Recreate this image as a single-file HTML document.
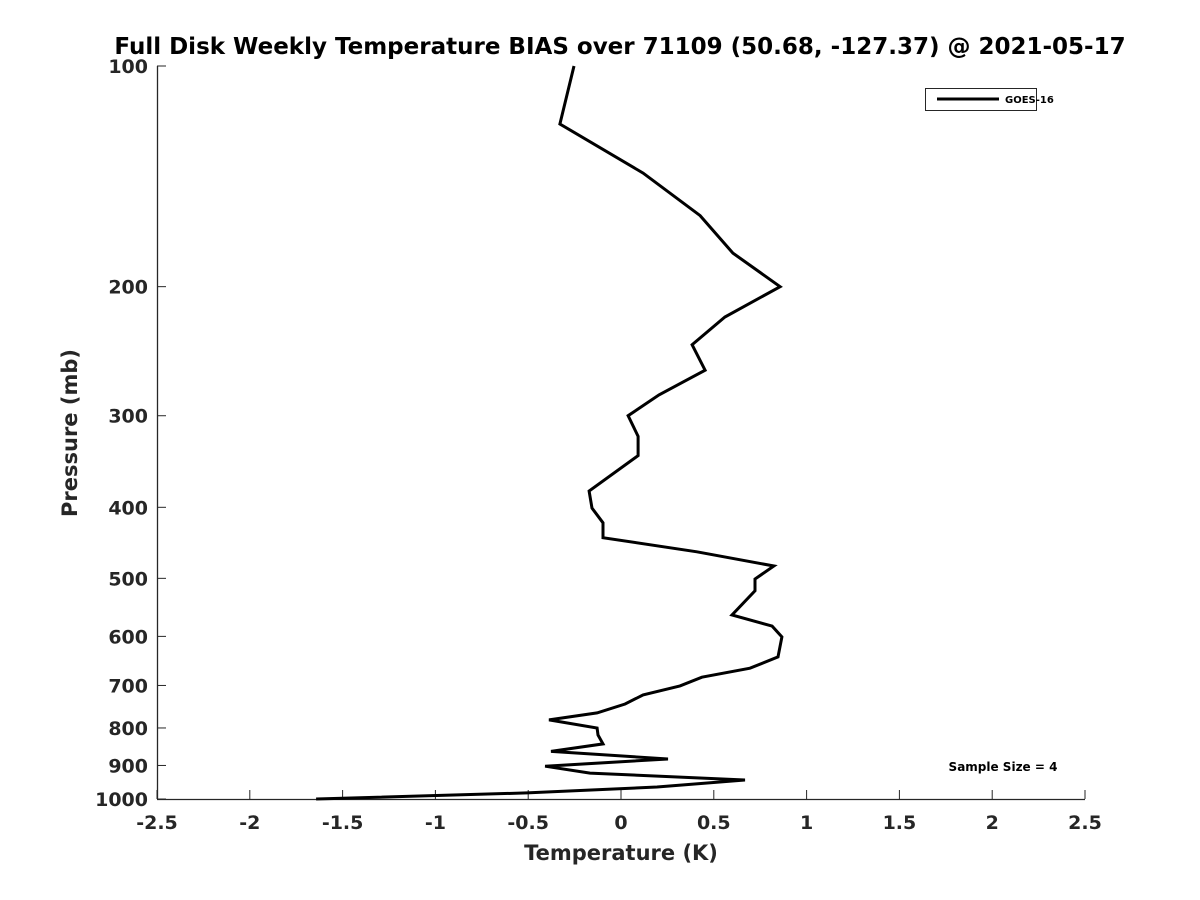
<!DOCTYPE html>
<html><head><meta charset="utf-8"><style>
html,body{margin:0;padding:0;background:#fff;}
svg{display:block;font-family:"DejaVu Sans","Liberation Sans",sans-serif;font-weight:bold;}
</style></head><body>
<svg id="chart" width="1200" height="900" viewBox="0 0 1200 900" xmlns="http://www.w3.org/2000/svg">
<rect width="1200" height="900" fill="#fff"/>
<text x="620" y="54" text-anchor="middle" font-size="23" fill="#000">Full Disk Weekly Temperature BIAS over 71109 (50.68, -127.37) @ 2021-05-17</text>
<g id="axes"></g>
<g id="series"></g>
<text x="621" y="860" text-anchor="middle" font-size="21" fill="#262626">Temperature (K)</text>
<text transform="translate(77,433) rotate(-90)" text-anchor="middle" font-size="21" fill="#262626">Pressure (mb)</text>
<g>
<rect x="925.5" y="88.5" width="111" height="22" fill="#fff" stroke="#262626" stroke-width="1"/>
<line x1="937" y1="99" x2="999" y2="99" stroke="#000" stroke-width="3"/>
<text x="1005" y="103" font-size="10" fill="#000">GOES-16</text>
</g>
<text x="1003" y="771" text-anchor="middle" font-size="12" fill="#000">Sample Size = 4</text>
</svg>
<script>
const xTicks = [-2.5,-2,-1.5,-1,-0.5,0,0.5,1,1.5,2,2.5];
const xTickLabels = ["-2.5","-2","-1.5","-1","-0.5","0","0.5","1","1.5","2","2.5"];
const yTicks = [100,200,300,400,500,600,700,800,900,1000];
const yTickLabels = ["100","200","300","400","500","600","700","800","900","1000"];
const pressure = [100,120,140,160,180,200,220,240,260,281,300,320,340,380,401,420,440,460,481,501,520,561,581,601,640,663,682,701,721,742,763,780,800,818,841,861,882,902,922,942,963,981,1000];
const biasGoes16 = [-0.253,-0.329,0.119,0.426,0.603,0.857,0.560,0.383,0.453,0.205,0.038,0.092,0.092,-0.172,-0.156,-0.097,-0.097,0.409,0.824,0.722,0.722,0.598,0.814,0.867,0.846,0.695,0.436,0.318,0.119,0.022,-0.129,-0.388,-0.129,-0.124,-0.097,-0.377,0.253,-0.409,-0.167,0.668,0.194,-0.506,-1.643];

const X0=157,X1=1085,Y0=66,Y1=799;
function xs(v){return X0+(v-(-2.5))/5*(X1-X0);}
function ys(p){return Y0+Math.log10(p/100)*(Y1-Y0);}
const NS="http://www.w3.org/2000/svg";
const axes=document.getElementById('axes');
function mk(tag,attrs,parent){const e=document.createElementNS(NS,tag);for(const k in attrs)e.setAttribute(k,attrs[k]);parent.appendChild(e);return e;}
let l=mk('line',{x1:X0,y1:Y1+0.5,x2:X1,y2:Y1+0.5,stroke:'#262626','stroke-width':1.3},axes);


l=mk('line',{x1:X0+0.5,y1:Y0,x2:X0+0.5,y2:Y1,stroke:'#262626','stroke-width':1.3},axes);


xTicks.forEach((v,i)=>{
  const x=xs(v);
  const t=mk('line',{x1:x,y1:Y1,x2:x,y2:Y1-9,stroke:'#262626','stroke-width':1},axes);
  
  
  const tx=mk('text',{x:x,y:Y1+30,'text-anchor':'middle','font-size':19,fill:'#262626'},axes);
  tx.textContent=xTickLabels[i];
  
  
});
yTicks.forEach((p,i)=>{
  const y=ys(p);
  const t=mk('line',{x1:X0,y1:y,x2:X0+9,y2:y,stroke:'#262626','stroke-width':1},axes);
  
  
  const tx=mk('text',{x:X0-9,y:y+7,'text-anchor':'end','font-size':19,fill:'#262626'},axes);
  tx.textContent=yTickLabels[i];
  
  
});
const pts=pressure.map((p,i)=>xs(biasGoes16[i]).toFixed(1)+','+ys(p).toFixed(1)).join(' ');
const line=mk('polyline',{points:pts,fill:'none',stroke:'#000','stroke-width':3,'stroke-linejoin':'miter'},document.getElementById('series'));


</script>
</body></html>
